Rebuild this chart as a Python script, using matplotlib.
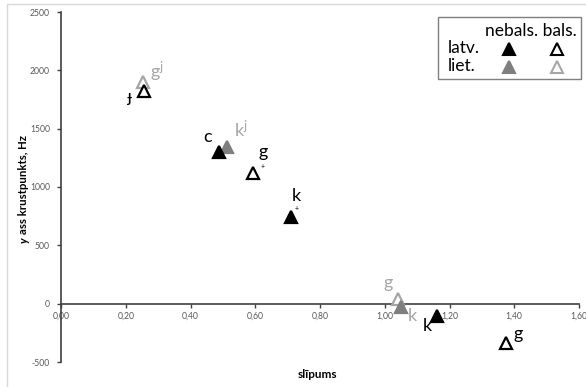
import matplotlib
matplotlib.use("Agg")
import matplotlib.pyplot as plt
from matplotlib.patches import Rectangle
from matplotlib.lines import Line2D

plt.rcParams['font.family'] = ['Lato', 'DejaVu Sans']
plt.rcParams['mathtext.fontset'] = 'custom'
plt.rcParams['mathtext.rm'] = 'Lato'
plt.rcParams['mathtext.it'] = 'Lato:italic'

# slope (slīpums) and y-intercept (Hz) of the locus equations
labels = ['ɟ', 'g$^{\\mathregular{j}}$', 'c', 'k$^{\\mathregular{j}}$', 'g', 'k', 'g', 'k', 'k', 'g']
language = ['latv.', 'liet.', 'latv.', 'liet.', 'latv.', 'latv.', 'liet.', 'liet.', 'latv.', 'latv.']
voicing = ['bals.', 'bals.', 'nebals.', 'nebals.', 'bals.', 'nebals.', 'bals.', 'nebals.', 'nebals.', 'bals.']
slope = [0.256, 0.252, 0.489, 0.513, 0.594, 0.710, 1.041, 1.051, 1.161, 1.376]
intercept = [1820, 1900, 1301, 1344, 1122, 745, 38, -26, -105, -339]
advanced = [False, False, False, False, True, True, False, False, False, False]

x_ticks = [0.0, 0.2, 0.4, 0.6, 0.8, 1.0, 1.2, 1.4, 1.6]
y_ticks = [-500, 0, 500, 1000, 1500, 2000, 2500]

# label offsets in pixels (dx right, dy up)
label_offset = [(-15, -6), (14, 10), (-12, 15), (14, 17), (10, 21),
                (5, 21), (-10, 16), (11, -9), (-10, -10), (12, 9)]
# position of the "+" (advanced) diacritic, pixels from the point
plus_offset = {4: (9, 6), 5: (6, 8)}

W, H = 586, 387
fig = plt.figure(figsize=(W / 100, H / 100), dpi=100)

def fx(px):
    return px / W

def fy(py):
    return 1 - py / H

# chart frame
fig.patches.append(Rectangle((fx(7), -0.1), 1.2, fy(4) + 0.1, transform=fig.transFigure,
                             fill=False, edgecolor='#d9d9d9', linewidth=1.0))

ax = fig.add_axes([fx(61), fy(362), fx(579) - fx(61), fy(12) - fy(362)])
ax.set_xlim(0, 1.6)
ax.set_ylim(-500, 2500)
for s in ['top', 'right']:
    ax.spines[s].set_visible(False)
ax.spines['bottom'].set_position(('data', 0))
for s in ['left', 'bottom']:
    ax.spines[s].set_color('#404040')
    ax.spines[s].set_linewidth(1.2)
ax.set_xticks(x_ticks)
ax.set_xticklabels([f"{v:.2f}".replace('.', ',') for v in x_ticks])
ax.set_yticks(y_ticks)
ax.set_yticklabels([str(v) for v in y_ticks])
ax.tick_params(axis='both', direction='out', length=3, width=1, color='#404040',
               labelsize=6.2, labelcolor='#595959')
ax.tick_params(axis='x', pad=3)
ax.tick_params(axis='y', pad=5)

style = {
    ('latv.', 'nebals.'): dict(mfc='black', mec='black', color_text='black'),
    ('latv.', 'bals.'): dict(mfc='white', mec='black', color_text='black'),
    ('liet.', 'nebals.'): dict(mfc='#7f7f7f', mec='#7f7f7f', color_text='#a6a6a6'),
    ('liet.', 'bals.'): dict(mfc='white', mec='#a6a6a6', color_text='#a6a6a6'),
}

order = [1, 3, 6, 7, 0, 2, 4, 5, 8, 9]
for i in order:
    st = style[(language[i], voicing[i])]
    ax.plot(slope[i], intercept[i], marker='^', linestyle='none', markersize=8.5,
            markerfacecolor=st['mfc'], markeredgecolor=st['mec'], markeredgewidth=1.6,
            zorder=3)

for i in range(len(slope)):
    st = style[(language[i], voicing[i])]
    dx, dy = label_offset[i]
    ax.annotate(labels[i], (slope[i], intercept[i]), xytext=(dx * 0.72, dy * 0.72),
                textcoords='offset points', ha='center', va='center',
                fontsize=13, color=st['color_text'], zorder=4)
    if advanced[i]:
        pdx, pdy = plus_offset[i]
        ax.annotate('+', (slope[i], intercept[i]), xytext=(pdx * 0.72, pdy * 0.72),
                    textcoords='offset points', ha='center', va='center',
                    fontsize=5, color='black', zorder=4)

# y-axis title: italic "y" followed by the rest, stacked along the rotated baseline
fig.text(fx(24), fy(243), "y", rotation=90, ha='center', va='bottom', fontsize=8.2,
         fontweight='bold', fontstyle='italic', color='black')
fig.text(fx(24), fy(234), "ass krustpunkts, Hz", rotation=90, ha='center', va='bottom',
         fontsize=8.2, fontweight='bold', color='black')
fig.text(fx(317), fy(374), "slīpums", ha='center', va='center',
         fontsize=8.5, fontweight='bold', color='black')

# legend panel
fig.patches.append(Rectangle((fx(438), fy(79)), fx(581) - fx(438), fy(17) - fy(79),
                             transform=fig.transFigure, fill=True, facecolor='white',
                             edgecolor='#7f7f7f', linewidth=1.0, zorder=5))
fig.text(fx(577), fy(31), "nebals. bals.", ha='right', va='center', fontsize=12.5, zorder=6)
fig.text(fx(448), fy(48), "latv.", ha='left', va='center', fontsize=12.5, zorder=6)
fig.text(fx(448), fy(66), "liet.", ha='left', va='center', fontsize=12.5, zorder=6)
for (lang, voi), (px, py) in {('latv.', 'nebals.'): (509, 49), ('latv.', 'bals.'): (557, 49),
                              ('liet.', 'nebals.'): (509, 67), ('liet.', 'bals.'): (557, 67)}.items():
    st = style[(lang, voi)]
    fig.lines.append(Line2D([fx(px)], [fy(py)], transform=fig.transFigure, marker='^',
                            linestyle='none', markersize=8, markerfacecolor=st['mfc'],
                            markeredgecolor=st['mec'], markeredgewidth=1.5, zorder=6))

fig.savefig("out.png", dpi=100)
